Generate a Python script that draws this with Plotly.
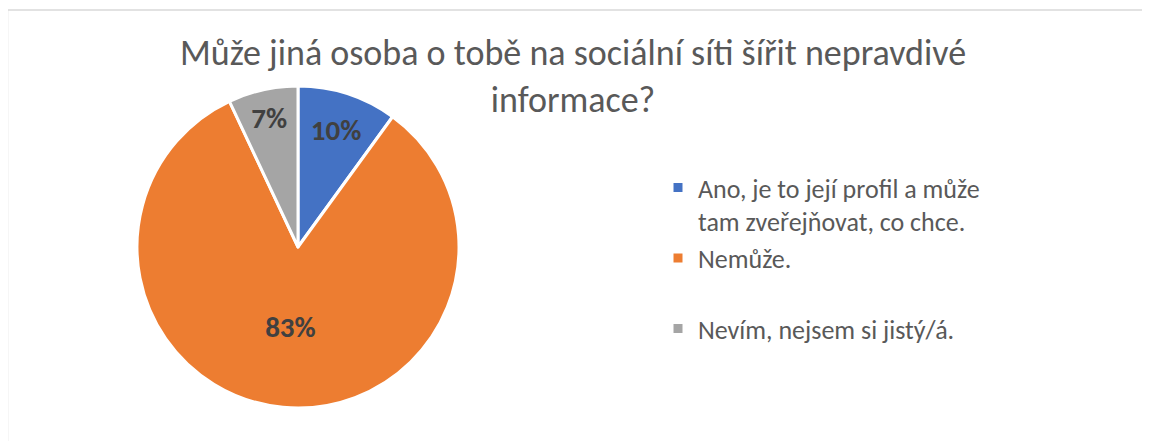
import plotly.graph_objects as go

labels = ["Ano, je to její profil a může<br>tam zveřejňovat, co chce.", "Nemůže.<br> ", "Nevím, nejsem si jistý/á."]
values = [10, 83, 7]
colors = ["#4472C4", "#ED7D31", "#A5A5A5"]
title = "Může jiná osoba o tobě na sociální síti šířit nepravdivé<br>informace?"

# page has an 8px body margin, so the figure is 8px smaller and offset
W, H = 1142, 433
FONT = "Carlito, Lato, 'Liberation Sans', sans-serif"

fig = go.Figure(go.Pie(
    labels=labels, values=values, sort=False, direction="clockwise", rotation=0,
    marker=dict(colors=colors, line=dict(color="white", width=3)),
    textinfo="percent", texttemplate="%{percent:.0%}", textposition="inside",
    insidetextorientation="horizontal",
    textfont=dict(family=FONT, size=29, color="#404040", weight="bold"),
    domain=dict(x=[129 / W, 451 / W], y=[1 - 400 / H, 1 - 78 / H]),
    showlegend=True,
))

fig.update_layout(
    width=W, height=H,
    margin=dict(l=0, r=0, t=0, b=0),
    paper_bgcolor="white", plot_bgcolor="white",
    title=dict(text=title, x=565 / W, xanchor="center", y=1 - 57 / H, yanchor="middle",
               font=dict(family=FONT, size=36, color="#595959")),
    legend=dict(x=650 / W, xanchor="left", y=1 - 156 / H, yanchor="top",
                font=dict(family=FONT, size=26, color="#595959"),
                valign="top", tracegroupgap=0, itemclick=False),
    shapes=[dict(type="rect", xref="paper", yref="paper",
                 x0=-0.5 / W, x1=1.01, y0=-0.01, y1=1 - 2 / H,
                 line=dict(color="#D9D9D9", width=1.5), fillcolor="rgba(0,0,0,0)")],
)

fig.write_html("out.html")
